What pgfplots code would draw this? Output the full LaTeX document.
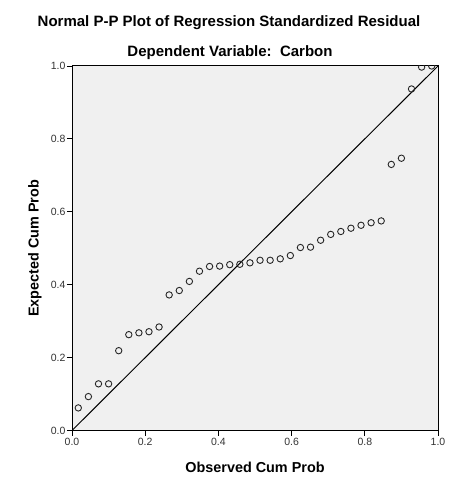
\documentclass[border=0pt]{standalone}
\usepackage{pgfplots}
\pgfplotsset{compat=1.18}
\usepackage{fontspec}
\setmainfont{Liberation Sans}
\definecolor{plotbg}{HTML}{F0F0F0}
\definecolor{ticktxt}{HTML}{333333}
\begin{document}
\begin{tikzpicture}
\useasboundingbox (-72bp,-58.5bp) rectangle (402bp,430.5bp);
\begin{axis}[
  at={(0,0)}, anchor=south west,
  scale only axis,
  width=366bp, height=364.5bp,
  xmin=0, xmax=1, ymin=0, ymax=1,
  axis background/.style={fill=plotbg},
  axis line style={line width=1pt, black},
  xtick={0,0.2,0.4,0.6,0.8,1.0},
  ytick={0,0.2,0.4,0.6,0.8,1.0},
  xticklabels={0.0,0.2,0.4,0.6,0.8,1.0},
  yticklabels={0.0,0.2,0.4,0.6,0.8,1.0},
  tick align=outside,
  tick pos=left,
  major tick length=5bp,
  tick style={black, line width=0.8pt},
  ticklabel style={font=\fontsize{10.5bp}{12bp}\selectfont, text=ticktxt},
  xticklabel style={yshift=1bp},
  yticklabel style={xshift=2bp},
  xlabel={\textbf{Observed Cum Prob}},
  ylabel={\textbf{Expected Cum Prob}},
  label style={font=\fontsize{14.4bp}{16bp}\selectfont},
  xlabel style={at={(rel axis cs:0.5,0)}, anchor=center, yshift=-37bp},
  ylabel style={at={(rel axis cs:0,0.5)}, anchor=center, xshift=0bp, yshift=37bp},
  clip marker paths=true,
  clip=true,
]
\addplot[black, line width=1pt, no marks] coordinates {(0,0) (1,1)};
\addplot[only marks, mark=o, mark size=3.2bp, mark options={line width=0.9pt, draw=black!85}] coordinates {
(0.0172,0.062)
(0.0448,0.093)
(0.0724,0.128)
(0.1000,0.128)
(0.1276,0.219)
(0.1552,0.263)
(0.1828,0.268)
(0.2103,0.271)
(0.2379,0.284)
(0.2655,0.372)
(0.2931,0.384)
(0.3207,0.409)
(0.3483,0.437)
(0.3759,0.450)
(0.4034,0.451)
(0.4310,0.455)
(0.4586,0.456)
(0.4862,0.460)
(0.5138,0.467)
(0.5414,0.467)
(0.5690,0.471)
(0.5966,0.480)
(0.6241,0.502)
(0.6517,0.503)
(0.6793,0.522)
(0.7069,0.538)
(0.7345,0.546)
(0.7621,0.555)
(0.7897,0.563)
(0.8172,0.570)
(0.8448,0.575)
(0.8724,0.730)
(0.9000,0.747)
(0.9276,0.937)
(0.9552,0.997)
(0.9828,1.000)
};
\end{axis}
\node[font=\bfseries\fontsize{15bp}{17bp}\selectfont, anchor=center] at (157bp,407.5bp) {Normal P-P Plot of Regression Standardized Residual};
\node[font=\bfseries\fontsize{15bp}{17bp}\selectfont, anchor=center] at (158bp,377.5bp) {Dependent Variable:\ \ Carbon};
\end{tikzpicture}
\end{document}
